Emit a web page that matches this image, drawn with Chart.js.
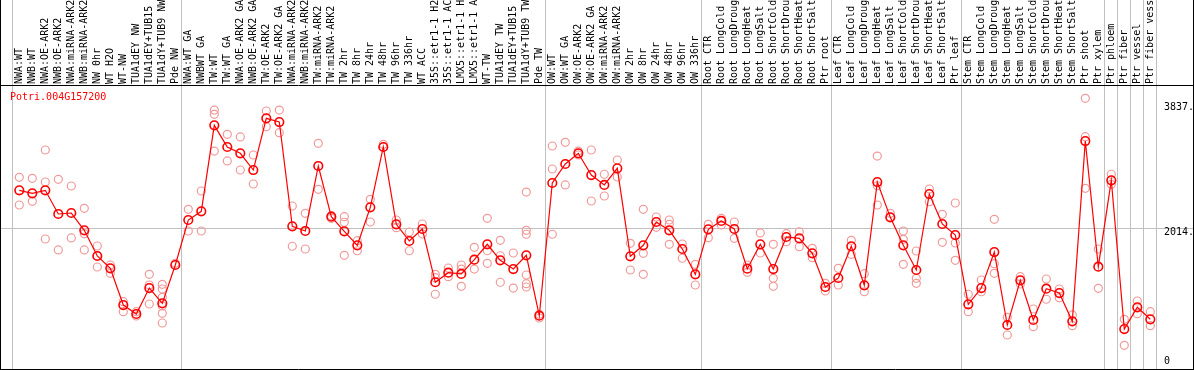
<!DOCTYPE html>
<html>
<head>
<meta charset="utf-8">
<script src="https://cdn.jsdelivr.net/npm/chart.js@4"></script>
<style>
html,body{margin:0;padding:0;background:#fff;}
canvas{display:block;}
</style>
</head>
<body>
<canvas id="c" width="1194" height="370"></canvas>
<script>
const chartTitle = 'Potri.004G157200';

const categories = [
  'NWA:WT','NWB:WT','NWA:OE-ARK2','NWB:OE-ARK2','NWA:miRNA-ARK2','NWB:miRNA-ARK2','NW 0hr','WT H2O','WT-NW','TUA1dEY NW','TUA1dEY+TUB15','TUA1dY+TUB9 NW','Pde NW',
  'NWA:WT GA','NWBWT GA','TW:WT','TW:WT GA','NWA:OE-ARK2 GA','NWB:OE-ARK2 GA','TW:OE-ARK2','TW:OE-ARK2 GA','NWA:miRNA-ARK2','NWB:miRNA-ARK2','TW:miRNA-ARK2','TW:miRNA-ARK2','TW 2hr','TW 8hr','TW 24hr','TW 48hr','TW 96hr','TW 336hr','WT ACC','35S::etr1-1 H2','35S::etr1-1 AC','LMX5::etr1-1 H','LMX5::etr1-1 A','WT-TW','TUA1dEY TW','TUA1dEY+TUB15','TUA1dY+TUB9 TW','Pde TW',
  'OW:WT','OW:WT GA','OW:OE-ARK2','OW:OE-ARK2 GA','OW:miRNA-ARK2','OW:miRNA-ARK2','OW 2hr','OW 8hr','OW 24hr','OW 48hr','OW 96hr','OW 336hr',
  'Root CTR','Root LongCold','Root LongDroug','Root LongHeat','Root LongSalt','Root ShortCold','Root ShortDrou','Root ShortHeat','Root ShortSalt','Ptr root',
  'Leaf CTR','Leaf LongCold','Leaf LongDroug','Leaf LongHeat','Leaf LongSalt','Leaf ShortCold','Leaf ShortDrou','Leaf ShortHeat','Leaf ShortSalt','Ptr leaf',
  'Stem CTR','Stem LongCold','Stem LongDroug','Stem LongHeat','Stem LongSalt','Stem ShortCold','Stem ShortDrou','Stem ShortHeat','Stem ShortSalt','Ptr shoot','Ptr xylem','Ptr phloem','Ptr fiber','Ptr vessel','Ptr fiber vess'
];

const meanValues = [
  2568,2524,2568,2223,2237,1985,1610,1431,895,764,1143,920,1479,
  2135,2262,3516,3200,3108,2864,3618,3564,2043,1975,2923,2183,1970,1766,2320,3200,2072,1829,2004,1227,1367,1348,1556,1781,1547,1420,1620,739,
  2675,2952,3108,2791,2646,2889,1606,1766,2106,1985,1712,1343,
  1999,2121,2004,1425,1781,1420,1887,1868,1649,1158,
  1289,1752,1183,2689,2174,1766,1406,2514,2077,1916,
  906,1143,1668,604,1256,677,1133,1070,658,3287,1454,2714,545,862,687
];

const replicateValues = [
  [2758,2354],[2743,2408],[3156,2689,1858],[2729,1698],[2631,1873],[2306,1935,1698],[1756,1610,1450],[1479,1358],[944,798],[798,735],[1343,1187,910],[1197,1129,1008,881,774,633],[1504],
  [2291,1975],[2558,1975],[3739,3677,3141],[3385,2996],[3346,2864],[3083,2660],[3725,3496],[3739,3408],[2339,1752],[2233,1712],[3254,2583],[2198,2160],[2183,2102,1620],[1833,1687],[2437,2106],[3239,3200],[2135,2023],[1960,1687],[2077,1931],[1343,1294,1052],[1435,1308],[1479,1420,1168],[1737,1420],[2160,1687,1504],[1839,1614,1227],[1654,1143],[2543,1985,1927,1333,1206,1158],[760,706],
  [3214,2879,1927],[3268,2646],[3141,3083],[3156,2412],[2802,2485],[3010,2762],[1795,1406],[2291,1649,1343],[2179,2029],[2135,2072,1781],[1785,1577],[1489,1187],
  [2072,1877],[2160,2062],[2106,1868],[1479,1372],[1946,1654],[1781,1285,1168],[1935,1819],[1964,1746],[1722,1585],[1212,1100],
  [1431,1187],[1839,1635],[1352,1089],[3068,2635,2354],[2233,2174],[1975,1854,1489],[1683,1285,1212],[2587,2402],[2218,1810],[2383,1800,1547],
  [1052,798],[1260,1089],[2145,1498,1358],[716,458],[1308,1202],[837,579],[1275,979],[1129,1002],[750,594],[3910,3350,2597],[1712,1139],[2802,2656],[687,308],[954,769],[798,594]
];

// group boundaries: separator drawn just after these category indexes
const groupEnds = [-1, 12, 40, 52, 62, 72, 83, 84, 85, 86, 87];

const yTickValues = [0, 2014, 3837];
const yTickLabels = ['0', '2014.', '3837.'];

const MONO = '"DejaVu Sans Mono", "Liberation Mono", monospace';

const meanPoints = meanValues.map((v, i) => ({x: i, y: v}));
const repPoints = [];
replicateValues.forEach((arr, i) => arr.forEach(v => repPoints.push({x: i, y: v})));

const framePlugin = {
  id: 'frame',
  beforeDatasetsDraw(chart) {
    const ctx = chart.ctx, xs = chart.scales.x;
    ctx.save();
    ctx.strokeStyle = '#c0c0c0';
    ctx.lineWidth = 1;
    groupEnds.forEach(g => {
      const px = Math.round(xs.getPixelForValue(g + 0.4)) + 0.5;
      ctx.beginPath();
      ctx.moveTo(px, 0);
      ctx.lineTo(px, chart.height);
      ctx.stroke();
    });
    ctx.restore();
  },
  afterDraw(chart) {
    const ctx = chart.ctx, a = chart.chartArea;
    ctx.save();
    ctx.strokeStyle = '#000';
    ctx.lineWidth = 1;
    ctx.beginPath();
    ctx.moveTo(0.5, 0); ctx.lineTo(0.5, chart.height);
    ctx.moveTo(chart.width - 0.5, 0); ctx.lineTo(chart.width - 0.5, chart.height);
    ctx.moveTo(0, a.top + 0.5); ctx.lineTo(chart.width, a.top + 0.5);
    ctx.moveTo(0, chart.height - 0.5); ctx.lineTo(chart.width, chart.height - 0.5);
    ctx.stroke();
    ctx.fillStyle = '#ff0000';
    ctx.font = '10px ' + MONO;
    ctx.textAlign = 'left';
    ctx.textBaseline = 'middle';
    ctx.fillText(chartTitle, 10, a.top + 12);
    ctx.restore();
  }
};

new Chart(document.getElementById('c'), {
  type: 'line',
  data: {
    datasets: [
      {
        type: 'line',
        data: meanPoints,
        order: 0,
        borderColor: '#ff0000',
        borderWidth: 1.2,
        pointStyle: 'circle',
        pointRadius: 4.3,
        pointBorderWidth: 1.6,
        pointBorderColor: '#ff0000',
        pointBackgroundColor: 'rgba(0,0,0,0)',
        tension: 0,
        fill: false
      },
      {
        type: 'scatter',
        data: repPoints,
        order: 1,
        showLine: false,
        pointStyle: 'circle',
        pointRadius: 4,
        pointBorderWidth: 1.2,
        pointBorderColor: '#f09a9a',
        pointBackgroundColor: 'rgba(0,0,0,0)'
      }
    ]
  },
  options: {
    responsive: false,
    animation: false,
    devicePixelRatio: 1,
    layout: {padding: 0, autoPadding: false},
    plugins: {legend: {display: false}, tooltip: {enabled: false}, title: {display: false}},
    scales: {
      x: {
        type: 'linear',
        position: 'top',
        min: -19.3 / 13,
        max: -19.3 / 13 + 1194 / 13,
        grid: {display: false, drawTicks: false},
        border: {display: false},
        ticks: {
          autoSkip: false,
          minRotation: 90,
          maxRotation: 90,
          padding: 1,
          labelOffset: 12,
          color: '#000',
          font: {family: MONO, size: 10},
          callback: (v) => categories[v] !== undefined ? categories[v] : ''
        },
        afterBuildTicks: (s) => { s.ticks = categories.map((_, i) => ({value: i})); },
        afterFit: (s) => {
          s.height = 85;
          s.paddingLeft = 0; s.paddingRight = 0; s.paddingTop = 0; s.paddingBottom = 0;
        }
      },
      y: {
        type: 'linear',
        position: 'right',
        min: -52.5,
        max: 4104,
        grid: {
          drawTicks: false,
          color: (c) => (c.tick && c.tick.value === 2014) ? '#c0c0c0' : 'rgba(0,0,0,0)'
        },
        border: {display: false},
        ticks: {
          mirror: true,
          crossAlign: 'far',
          padding: 0,
          labelOffset: 4.4,
          color: '#000',
          font: {family: MONO, size: 10, lineHeight: 1.82},
          callback: (v) => {
            const k = yTickValues.indexOf(v);
            if (k < 0) return '';
            return v === 0 ? [yTickLabels[k], ''] : yTickLabels[k];
          }
        },
        afterBuildTicks: (s) => { s.ticks = yTickValues.map(v => ({value: v})); },
        afterFit: (s) => {
          s.width = 0;
          s.paddingLeft = 0; s.paddingRight = 0; s.paddingTop = 0; s.paddingBottom = 0;
        }
      }
    }
  },
  plugins: [framePlugin]
});
</script>
</body>
</html>
